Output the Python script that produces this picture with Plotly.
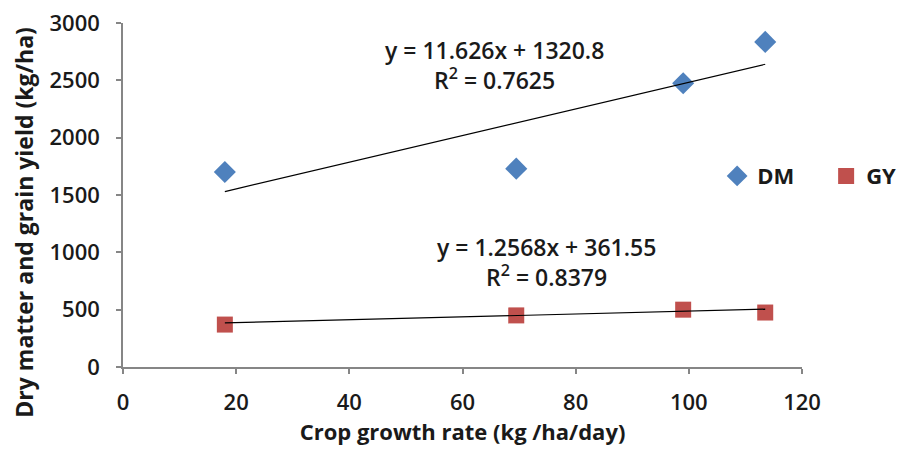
import plotly.graph_objects as go

# Crop growth rate (kg/ha/day) and yields (kg/ha)
cgr = [18, 69.5, 99, 113.5]
dm_yield = [1700, 1730, 2475, 2835]
gy_yield = [370, 450, 500, 475]

# Linear fits shown on the chart
dm_fit = (11.626, 1320.8, 0.7625)
gy_fit = (1.2568, 361.55, 0.8379)

x_ticks = [0, 20, 40, 60, 80, 100, 120]
y_ticks = [0, 500, 1000, 1500, 2000, 2500, 3000]

BLUE = "#4F81BD"
RED = "#C0504D"
AXIS = "#868686"
FONT = "Open Sans"
TEXT = "#1a1a1a"

fig = go.Figure()

fig.add_trace(go.Scatter(
    x=cgr, y=dm_yield, mode="markers", name="DM",
    marker=dict(symbol="diamond", size=17, color=BLUE),
))
fig.add_trace(go.Scatter(
    x=cgr, y=gy_yield, mode="markers", name="GY",
    marker=dict(symbol="square", size=16, color=RED),
))

xs = [min(cgr), max(cgr)]
for slope, icpt, _ in (dm_fit, gy_fit):
    fig.add_trace(go.Scatter(
        x=xs, y=[slope * v + icpt for v in xs], mode="lines",
        line=dict(color="black", width=1.2), showlegend=False,
        hoverinfo="skip",
    ))

def eq_text(slope, icpt, r2):
    return f"y = {slope}x + {icpt}<br>R<sup>2</sup> = {r2}"

ann_font = dict(family=FONT, size=23, color=TEXT, weight=600)
fig.add_annotation(x=65.6, y=2630, text=eq_text(*dm_fit), showarrow=False,
                   xanchor="center", yanchor="middle", align="center", font=ann_font)
fig.add_annotation(x=74.8, y=915, text=eq_text(*gy_fit), showarrow=False,
                   xanchor="center", yanchor="middle", align="center", font=ann_font)

# Y-axis title, placed a little below the plot's vertical centre
fig.add_annotation(xref="paper", yref="paper", x=-0.147, y=0.42,
                   text="Dry matter and grain yield (kg/ha)", textangle=-90,
                   showarrow=False, xanchor="center", yanchor="middle",
                   font=dict(family=FONT, size=23, color=TEXT, weight=700))

fig.update_layout(
    width=901, height=452,
    margin=dict(l=123, r=99, t=23, b=85, autoexpand=False),
    paper_bgcolor="white", plot_bgcolor="white",
    font=dict(family=FONT, size=22, color=TEXT, weight=600),
    showlegend=True,
    legend=dict(orientation="h", x=0.875, y=0.555, xanchor="left", yanchor="middle",
                font=dict(size=22, weight=700), entrywidth=64, bgcolor="rgba(0,0,0,0)"),
    xaxis=dict(
        range=[0, 120], tickvals=x_ticks, showgrid=False, zeroline=False,
        showline=True, linecolor=AXIS, linewidth=1.5,
        ticks="outside", ticklen=5, tickcolor=AXIS, tickwidth=1.5,
        ticklabelstandoff=10,
        title=dict(text="Crop growth rate (kg /ha/day)", standoff=8,
                   font=dict(size=22, weight=700)),
    ),
    yaxis=dict(
        range=[0, 3000], tickvals=y_ticks, showgrid=False, zeroline=False,
        showline=True, linecolor=AXIS, linewidth=1.5,
        ticks="outside", ticklen=5, tickcolor=AXIS, tickwidth=1.5,
        ticklabelstandoff=12,
    ),
)

fig.write_html("out.html")
